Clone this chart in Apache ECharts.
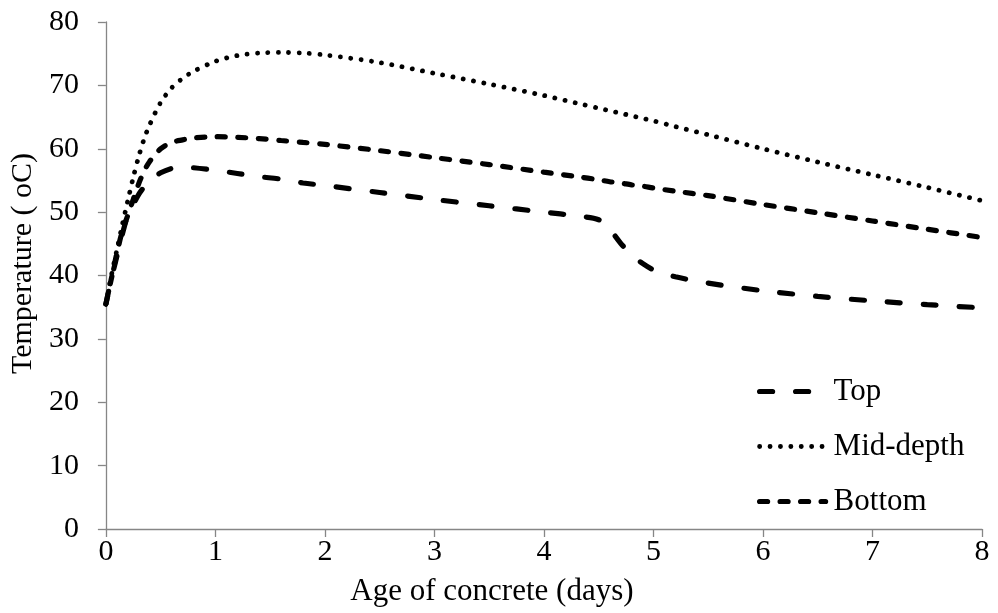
<!DOCTYPE html>
<html>
<head>
<meta charset="utf-8">
<script src="https://cdn.jsdelivr.net/npm/echarts@6/dist/echarts.min.js"></script>
<style>
  html, body { margin: 0; padding: 0; background: #fff; }
  #chart { width: 998px; height: 613px; }
</style>
</head>
<body>
<div id="chart"></div>
<script>
// Age of concrete (days) at which temperatures were sampled
const days = [0, 0.05, 0.1, 0.15, 0.2, 0.25, 0.3, 0.35, 0.4, 0.5, 0.6, 0.7, 0.8, 1.0, 1.2, 1.4, 1.6, 1.8, 2.0,
  2.5, 3.0, 3.5, 4.0, 4.3, 4.5, 4.6, 4.7, 4.8, 4.9, 5.0, 5.2, 5.5, 6.0, 6.5, 7.0, 7.5, 8.0];

// Temperature (oC) at each depth
const topTemp = [35.5, 39.5, 43, 46.5, 49.5, 51.2, 52.8, 54, 55, 56.2, 56.9, 57.1, 57.0, 56.6, 56.1, 55.6, 55.2, 54.6, 54.2,
  53.1, 52.0, 51.0, 50.0, 49.4, 48.8, 47.3, 45.1, 43.3, 41.9, 40.9, 39.8, 38.8, 37.6, 36.7, 36.0, 35.4, 34.9];
const midTemp = [35.5, 40, 44, 48, 51.8, 55.5, 58.8, 61.6, 63.8, 67.3, 69.6, 71.1, 72.2, 73.8, 74.7, 75.1, 75.2, 75.1, 74.8,
  73.6, 71.9, 70.2, 68.4, 67.2, 66.4, 66.0, 65.6, 65.2, 64.8, 64.4, 63.5, 62.2, 60.0, 57.9, 55.9, 53.9, 51.8];
const bottomTemp = [35.5, 39.5, 43.5, 47, 49.5, 52, 54.5, 56.5, 58, 60, 61, 61.4, 61.7, 61.9, 61.8, 61.6, 61.3, 61.0, 60.7,
  59.7, 58.6, 57.5, 56.3, 55.6, 55.1, 54.8, 54.6, 54.3, 54.1, 53.8, 53.3, 52.6, 51.2, 49.9, 48.6, 47.3, 46.0];

const xTicks = [0, 1, 2, 3, 4, 5, 6, 7, 8];
const yTicks = [0, 10, 20, 30, 40, 50, 60, 70, 80];

const pairs = vals => days.map((d, i) => [d, vals[i]]);
const font = '"Liberation Serif", "Times New Roman", serif';
const axisColor = '#868686';

// Stroke styles per depth: long dash, dots, short dash
const styles = {
  'Top': { type: [13, 23], width: 5.2 },
  'Mid-depth': { type: [0.1, 10.3], width: 4.8 },
  'Bottom': { type: [8, 12.5], width: 5.2 }
};

const chart = echarts.init(document.getElementById('chart'), null, { renderer: 'canvas' });

function lineSeries(name, vals) {
  const s = styles[name];
  return {
    name: name,
    type: 'line',
    data: pairs(vals),
    symbol: 'none',
    smooth: 0.3,
    lineStyle: { color: '#000', width: s.width, type: s.type, cap: 'round' },
    itemStyle: { color: '#000' },
    z: 3
  };
}

function legendItem(name) {
  const s = styles[name];
  return {
    name: name,
    itemStyle: { opacity: 0 },
    lineStyle: { color: '#000', width: s.width, type: s.type, cap: 'round' }
  };
}

chart.setOption({
  animation: false,
  backgroundColor: '#fff',
  grid: { left: 105, right: 16, top: 22, bottom: 84, containLabel: false },
  xAxis: {
    type: 'value',
    min: xTicks[0],
    max: xTicks[xTicks.length - 1],
    interval: 1,
    name: 'Age of concrete (days)',
    nameLocation: 'middle',
    nameGap: 47,
    nameTextStyle: { fontFamily: font, fontSize: 31, color: '#000', padding: [0, 104, 0, 0] },
    axisLine: { show: true, lineStyle: { color: axisColor, width: 1.3 } },
    axisTick: { show: true, inside: false, length: 8, lineStyle: { color: axisColor, width: 1.3 } },
    axisLabel: { fontFamily: font, fontSize: 30, color: '#000', margin: 8 },
    splitLine: { show: false }
  },
  yAxis: {
    type: 'value',
    min: yTicks[0],
    max: yTicks[yTicks.length - 1],
    interval: 10,
    name: 'Temperature ( oC)',
    nameLocation: 'middle',
    nameGap: 67,
    nameTextStyle: { fontFamily: font, fontSize: 30, color: '#000', padding: [0, 0, 0, 24] },
    axisLine: { show: true, lineStyle: { color: axisColor, width: 1.3 } },
    axisTick: { show: true, inside: false, length: 8, lineStyle: { color: axisColor, width: 1.3 } },
    axisLabel: { fontFamily: font, fontSize: 30, color: '#000', margin: 27 },
    splitLine: { show: false }
  },
  legend: {
    orient: 'vertical',
    left: 752,
    top: 371,
    itemWidth: 66,
    itemHeight: 14,
    itemGap: 24,
    textStyle: { fontFamily: font, fontSize: 31, color: '#000', padding: [0, 0, 0, 3] },
    data: ['Top', 'Mid-depth', 'Bottom'].map(legendItem)
  },
  series: [
    lineSeries('Top', topTemp),
    lineSeries('Mid-depth', midTemp),
    lineSeries('Bottom', bottomTemp)
  ]
});
</script>
</body>
</html>
